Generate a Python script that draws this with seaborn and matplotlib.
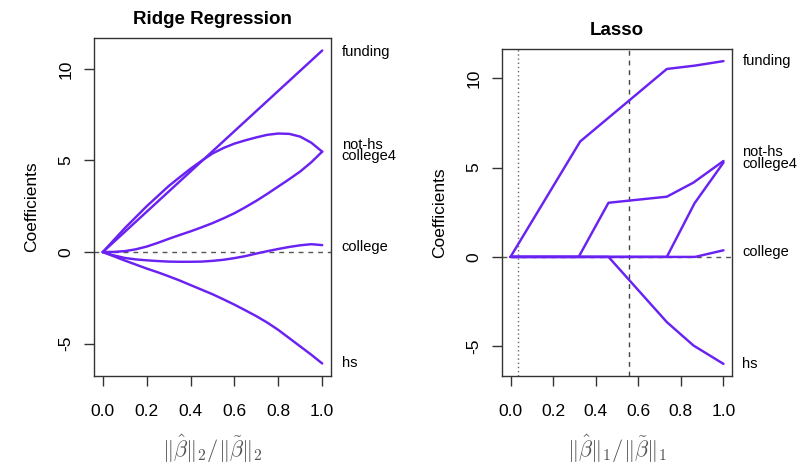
import numpy as np
import pandas as pd
import matplotlib
matplotlib.use("Agg")
import matplotlib.pyplot as plt
import seaborn as sns

# ---------------- data ----------------
variables = ["funding", "not-hs", "college4", "college", "hs"]

ridge_x = [0.0, 0.05, 0.1, 0.15, 0.2, 0.25, 0.3, 0.35, 0.4, 0.45, 0.5,
           0.55, 0.6, 0.65, 0.7, 0.75, 0.8, 0.85, 0.9, 0.95, 1.0]
ridge_funding = [0.0, 0.55, 1.1, 1.65, 2.2, 2.75, 3.3, 3.85, 4.4, 4.95, 5.5,
                 6.05, 6.6, 7.15, 7.7, 8.25, 8.8, 9.35, 9.9, 10.45, 11.0]
ridge_noths = [0.0, 0.65, 1.3, 1.9, 2.5, 3.05, 3.6, 4.08, 4.55, 4.98, 5.38,
               5.68, 5.92, 6.1, 6.26, 6.4, 6.47, 6.45, 6.3, 5.97, 5.48]
ridge_college4 = [0.0, 0.01, 0.05, 0.15, 0.3, 0.5, 0.72, 0.93, 1.13, 1.35,
                  1.58, 1.84, 2.12, 2.45, 2.8, 3.18, 3.58, 3.98, 4.4, 4.9,
                  5.48]
ridge_college = [0.0, -0.18, -0.32, -0.4, -0.45, -0.49, -0.52, -0.53, -0.53,
                 -0.52, -0.48, -0.42, -0.33, -0.22, -0.08, 0.05, 0.17, 0.28,
                 0.37, 0.43, 0.38]
ridge_hs = [0.0, -0.23, -0.46, -0.68, -0.9, -1.1, -1.32, -1.55, -1.8, -2.05,
            -2.3, -2.58, -2.87, -3.18, -3.5, -3.85, -4.25, -4.7, -5.15, -5.6,
            -6.08]

lasso_funding_x = [0.0, 0.327, 0.734, 0.867, 1.0]
lasso_funding = [0.0, 6.46, 10.52, 10.71, 10.96]
lasso_noths_x = [0.0, 0.32, 0.46, 0.734, 0.859, 1.0]
lasso_noths = [0.0, 0.0, 3.03, 3.37, 4.16, 5.37]
lasso_college4_x = [0.0, 0.734, 0.864, 1.0]
lasso_college4 = [0.0, 0.0, 3.0, 5.28]
lasso_college_x = [0.0, 0.867, 1.0]
lasso_college = [0.0, 0.0, 0.37]
lasso_hs_x = [0.0, 0.46, 0.734, 0.859, 1.0]
lasso_hs = [0.0, 0.0, -3.65, -4.96, -5.99]

ridge_label_y = [10.9, 5.85, 5.25, 0.27, -6.06]
lasso_label_y = [10.96, 5.85, 5.2, 0.28, -6.0]

lasso_vline_dotted = 0.033
lasso_vline_dashed = 0.556

xticks = [0.0, 0.2, 0.4, 0.6, 0.8, 1.0]
yticks = [-5, 0, 5, 10]

# ---------------- style ----------------
sns.set_style("white")
plt.rcParams["font.family"] = ["Liberation Sans", "DejaVu Sans"]
plt.rcParams["mathtext.fontset"] = "cm"
plt.rcParams["text.color"] = "black"
plt.rcParams["axes.labelcolor"] = "black"

LINE = "#6A22F2"
FRAME = "#333333"

ridge_df = pd.concat([
    pd.DataFrame({"x": ridge_x, "y": ys, "var": v})
    for v, ys in zip(variables, [ridge_funding, ridge_noths, ridge_college4,
                                 ridge_college, ridge_hs])
])
lasso_df = pd.concat([
    pd.DataFrame({"x": xs, "y": ys, "var": v})
    for v, xs, ys in zip(variables,
                         [lasso_funding_x, lasso_noths_x, lasso_college4_x,
                          lasso_college_x, lasso_hs_x],
                         [lasso_funding, lasso_noths, lasso_college4,
                          lasso_college, lasso_hs])
])

fig = plt.figure(figsize=(7.98, 4.66), dpi=100)
ax1 = fig.add_axes([94 / 798, 90 / 466, 237 / 798, 338 / 466])
ax2 = fig.add_axes([502 / 798, 90 / 466, 230 / 798, 327 / 466])

palette = {v: LINE for v in variables}


def style_axes(ax, df, title, xlabel, label_y, title_pad):
    ax.axhline(0, color="#555555", lw=1.0, ls=(0, (3.5, 3.5)), zorder=1)
    sns.lineplot(data=df, x="x", y="y", hue="var", palette=palette,
                 legend=False, ax=ax, lw=1.75, sort=False, estimator=None,
                 zorder=3)
    ymin = min(df["y"]); ymax = max(df["y"])
    pad = 0.04 * (ymax - ymin)
    ax.set_ylim(ymin - pad, ymax + pad)
    ax.set_xlim(-0.04, 1.04)
    ax.set_xticks(xticks)
    ax.set_xticklabels([f"{t:.1f}" for t in xticks])
    ax.set_yticks(yticks)
    ax.set_yticklabels([str(t) for t in yticks], rotation=90, va="center")
    for s in ax.spines.values():
        s.set_color(FRAME)
        s.set_linewidth(1.0)
        s.set_visible(True)
    ax.tick_params(axis="both", direction="out", length=7, width=1.0,
                   color=FRAME, labelsize=12.5, labelcolor="black",
                   bottom=True, left=True)
    ax.tick_params(axis="x", pad=13)
    ax.tick_params(axis="y", pad=8)
    ax.set_title(title, fontsize=13.5, fontweight="bold", pad=title_pad,
                 color="black")
    ax.set_xlabel(xlabel, fontsize=16, color="#555555", labelpad=10)
    ax.set_ylabel("Coefficients", fontsize=12.5, labelpad=14, color="black")
    for v, yy in zip(variables, label_y):
        ax.text(1.045, yy, v, transform=ax.get_yaxis_transform(),
                fontsize=10.5, va="center", ha="left", clip_on=False,
                color="black")
    return ax


style_axes(ax1, ridge_df, "Ridge Regression",
           r"$\|\hat{\beta}\|_2/\|\tilde{\beta}\|_2$", ridge_label_y, 10)
style_axes(ax2, lasso_df, "Lasso",
           r"$\|\hat{\beta}\|_1/\|\tilde{\beta}\|_1$", lasso_label_y, 10)

ax2.axvline(lasso_vline_dotted, color="#666666", lw=1.0, ls=(0, (1, 2)), zorder=1)
ax2.axvline(lasso_vline_dashed, color="#444444", lw=1.0, ls=(0, (3.5, 3.5)), zorder=1)

fig.savefig("out.png", dpi=100)
